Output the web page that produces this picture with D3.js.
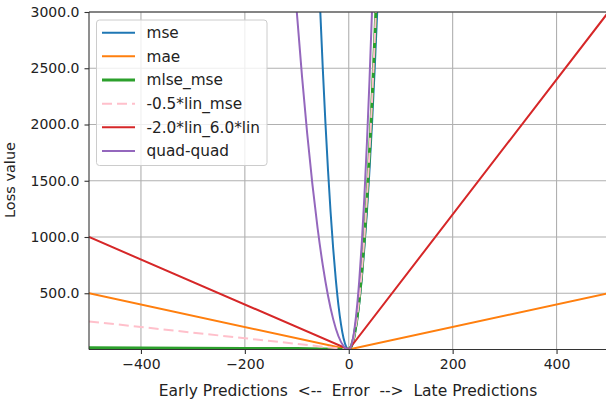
<!DOCTYPE html>
<html><head><meta charset="utf-8">
<script src="https://cdn.jsdelivr.net/npm/d3@7"></script>
<style>body{margin:0;background:#fff}text{font-family:"DejaVu Sans",sans-serif}</style>
</head><body>
<svg id="c" width="606" height="402"></svg>
<script>
// ---- data ----
const xTicks = [-400, -200, 0, 200, 400];
const yTicks = [500, 1000, 1500, 2000, 2500, 3000];
const seriesNames = ["mse", "mae", "mlse_mse", "-0.5*lin_mse", "-2.0*lin_6.0*lin", "quad-quad"];
const seriesColors = ["#1f77b4", "#ff7f0e", "#2ca02c", "pink", "#d62728", "#9467bd"];

const mseX = [-60, -55, -50, -45, -40, -35, -30, -25, -20, -15, -10, -5, 0, 5, 10, 15, 20, 25, 30, 35, 40, 45, 50, 55, 60];
const mseY = [3600, 3025, 2500, 2025, 1600, 1225, 900, 625, 400, 225, 100, 25, 0, 25, 100, 225, 400, 625, 900, 1225, 1600, 2025, 2500, 3025, 3600];

const maeX = [-500, 0, 500];
const maeY = [500, 0, 500];

const mlseX = [-500, -400, -300, -200, -100, -50, -20, -10, 0, 5, 10, 15, 20, 25, 30, 35, 40, 45, 50, 55, 60];
const mlseY = [15, 14, 12, 10, 8, 5, 2, 1, 0, 28, 110, 248, 440, 688, 990, 1348, 1760, 2228, 2750, 3328, 3960];

const linMseX = [-500, -400, -300, -200, -100, -10, 0, 5, 10, 15, 20, 25, 30, 35, 40, 45, 50, 55, 60];
const linMseY = [250, 200, 150, 100, 50, 5, 0, 28, 110, 248, 440, 688, 990, 1348, 1760, 2228, 2750, 3328, 3960];

const linLinX = [-500, 0, 500];
const linLinY = [1000, 0, 3000];

const quadX = [-110, -100, -90, -80, -70, -60, -50, -40, -30, -20, -10, 0, 5, 10, 15, 20, 25, 30, 35, 40, 45, 50];
const quadY = [3630, 3000, 2430, 1920, 1470, 1080, 750, 480, 270, 120, 30, 0, 38, 150, 338, 600, 938, 1350, 1838, 2400, 3038, 3750];

const xData = [mseX, maeX, mlseX, linMseX, linLinX, quadX];
const yData = [mseY, maeY, mlseY, linMseY, linLinY, quadY];
const widths = [2, 2, 3, 2, 2, 2];
const dashes = [null, null, null, "10,5", null, null];
const smooth = [true, false, false, false, false, true];

// ---- layout ----
const L = 89, R = 608.5, T = 12, B = 349.5;
const svg = d3.select("#c");
const x = d3.scaleLinear().domain([-500, 500]).range([L, R]);
const y = d3.scaleLinear().domain([0, 3000]).range([B, T]);

svg.append("defs").append("clipPath").attr("id", "clip")
  .append("rect").attr("x", L).attr("y", T).attr("width", R - L).attr("height", B - T);

// grid
const grid = svg.append("g");
grid.selectAll(".gx").data(xTicks).join("line")
  .attr("x1", d => x(d)).attr("x2", d => x(d)).attr("y1", T).attr("y2", B)
  .attr("stroke", "#b0b0b0").attr("stroke-width", 1.1);
grid.selectAll(".gy").data(yTicks).join("line")
  .attr("x1", L).attr("x2", R).attr("y1", d => y(d)).attr("y2", d => y(d))
  .attr("stroke", "#b0b0b0").attr("stroke-width", 1.1);

// lines
const lineG = svg.append("g").attr("clip-path", "url(#clip)");
seriesNames.forEach((n, i) => {
  const pts = xData[i].map((v, j) => [v, yData[i][j]]);
  lineG.append("path").datum(pts)
    .attr("d", d3.line().x(d => x(d[0])).y(d => y(d[1]))
      .curve(smooth[i] ? d3.curveMonotoneX : d3.curveLinear))
    .attr("fill", "none").attr("stroke", seriesColors[i])
    .attr("stroke-width", widths[i])
    .attr("stroke-dasharray", dashes[i]);
});

// axes
const fmtY = d => d3.format(".1f")(d);
const fmtX = d => d < 0 ? "\u2212" + Math.abs(d) : String(d);
const ax = svg.append("g").attr("transform", `translate(0,${B})`)
  .call(d3.axisBottom(x).tickValues(xTicks).tickFormat(fmtX).tickSize(4.5).tickPadding(5));
const ay = svg.append("g").attr("transform", `translate(${L},0)`)
  .call(d3.axisLeft(y).tickValues(yTicks).tickFormat(fmtY).tickSize(4.5).tickPadding(5));
[ax, ay].forEach(g => {
  g.select(".domain").remove();
  g.selectAll("line").attr("stroke", "#333").attr("stroke-width", 1.1);
  g.selectAll("text").attr("font-size", 14).attr("fill", "#222")
    .style("font-family", "DejaVu Sans");
});

// spines
const sp = svg.append("g").attr("stroke", "#333").attr("stroke-width", 1.1);
sp.append("line").attr("x1", L).attr("x2", L).attr("y1", T).attr("y2", B);
sp.append("line").attr("x1", L).attr("x2", R).attr("y1", B).attr("y2", B);
sp.append("line").attr("x1", L).attr("x2", R).attr("y1", T).attr("y2", T);
sp.append("line").attr("x1", R).attr("x2", R).attr("y1", T).attr("y2", B);

// labels
svg.append("text").attr("x", 348).attr("y", 396).attr("text-anchor", "middle")
  .attr("font-size", 15.5).attr("fill", "#222").attr("xml:space", "preserve")
  .text("Early Predictions  <--  Error  -->  Late Predictions");
svg.append("text").attr("transform", `translate(15,180) rotate(-90)`)
  .attr("text-anchor", "middle").attr("font-size", 14.5).attr("fill", "#222")
  .text("Loss value");

// legend
const lg = svg.append("g");
lg.append("rect").attr("x", 96.5).attr("y", 20).attr("width", 170.5).attr("height", 145.5)
  .attr("rx", 3).attr("fill", "white").attr("fill-opacity", 0.8)
  .attr("stroke", "#cccccc").attr("stroke-width", 1);
seriesNames.forEach((n, i) => {
  const yy = 32.7 + i * 23.65;
  lg.append("line").attr("x1", 102).attr("x2", 135).attr("y1", yy).attr("y2", yy)
    .attr("stroke", seriesColors[i]).attr("stroke-width", widths[i])
    .attr("stroke-dasharray", dashes[i]);
  lg.append("text").attr("x", 146.5).attr("y", yy + 5.3).attr("font-size", 15.3)
    .attr("fill", "#222").text(n);
});
</script>
</body></html>
